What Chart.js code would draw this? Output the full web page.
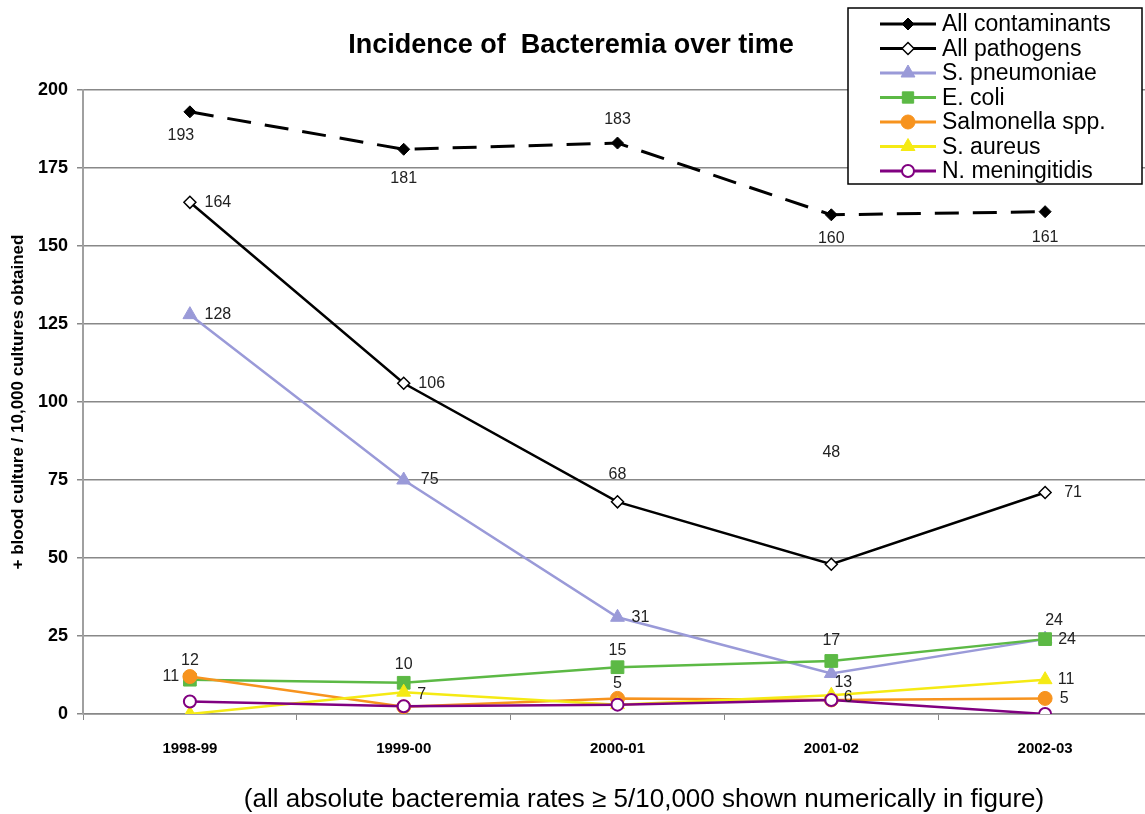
<!DOCTYPE html>
<html>
<head>
<meta charset="utf-8">
<script src="https://cdn.jsdelivr.net/npm/chart.js@4.4.0/dist/chart.umd.min.js"></script>
<style>
    html, body { margin: 0; padding: 0; background: #fff; overflow: hidden; }
    canvas { display: block; }
</style>
</head>
<body>
<canvas id="bacteremia-chart" width="1162" height="814"></canvas>
<script>
// Incidence of bacteremia chart

const years = ['1998-99', '1999-00', '2000-01', '2001-02', '2002-03'];
const yTicks = [0, 25, 50, 75, 100, 125, 150, 175, 200];

const allContaminants = [193, 181, 183, 160, 161];
const allPathogens = [164, 106, 68, 48, 71];
const sPneumoniae = [128, 75, 31, 13, 24];
const eColi = [11, 10, 15, 17, 24];
const salmonella = [12, 2.3, 5, 4.5, 5];
const sAureus = [0, 7, 3, 6, 11];
const nMeningitidis = [4, 2.5, 3, 4.5, 0];

const FONT = '"Liberation Sans", Arial, sans-serif';

// where each value label sits relative to its point (null = no label)
const labelOffsets = [
    [[-9, 24], [0, 29], [0, -23], [0, 24], [0, 26]],
    [[28, 0], [28, 0], [0, -27], [0, -112], [28, 0]],
    [[28, 0], [26, 0], [23, 0], [12, 9], [9, -19]],
    [[-19, -3], [0, -18], [0, -17], [0, -20], [22, 0]],
    [[0, -16], null, [0, -15], null, [19, 0]],
    [null, [18, 2], null, [17, 2], [21, 0]],
    [null, null, null, null, null]
];

function series(label, data, color, extra) {
    return Object.assign({
        label: label,
        data: data,
        borderColor: color,
        backgroundColor: color,
        pointBackgroundColor: color,
        pointBorderColor: color,
        borderWidth: 2.5,
        pointBorderWidth: 1,
        fill: false,
        tension: 0
    }, extra);
}

const datasets = [
    series('All contaminants', allContaminants, '#000000', { borderWidth: 3, borderDash: [24, 14], pointStyle: 'rectRot', pointRadius: 6 }),
    series('All pathogens', allPathogens, '#000000', { pointStyle: 'rectRot', pointRadius: 6, pointBackgroundColor: '#ffffff', pointBorderWidth: 1.5 }),
    series('S. pneumoniae', sPneumoniae, '#9a9ad8', { pointStyle: 'triangle', pointRadius: 8 }),
    series('E. coli', eColi, '#5cb945', { pointStyle: 'rect', pointRadius: 9 }),
    series('Salmonella spp.', salmonella, '#f7931e', { pointStyle: 'circle', pointRadius: 7 }),
    series('S. aureus', sAureus, '#f5ea14', { pointStyle: 'triangle', pointRadius: 8 }),
    series('N. meningitidis', nMeningitidis, '#800080', { pointStyle: 'circle', pointRadius: 6, pointBackgroundColor: '#ffffff', pointBorderWidth: 2 })
];
// later series sit on top
datasets.forEach((d, i) => { d.order = datasets.length - 1 - i; });

const valueLabels = {
    id: 'valueLabels',
    afterDatasetsDraw(chart) {
        const ctx = chart.ctx;
        ctx.save();
        ctx.font = '16px ' + FONT;
        ctx.fillStyle = '#222';
        ctx.textAlign = 'center';
        ctx.textBaseline = 'middle';
        chart.data.datasets.forEach((ds, di) => {
            const meta = chart.getDatasetMeta(di);
            meta.data.forEach((pt, i) => {
                const off = labelOffsets[di][i];
                if (!off) return;
                ctx.fillText(String(Math.round(ds.data[i])), pt.x + off[0], pt.y + off[1]);
            });
        });
        ctx.restore();
    }
};

const decorations = {
    id: 'decorations',
    afterDraw(chart) {
        const ctx = chart.ctx;
        ctx.save();
        ctx.fillStyle = '#000';
        ctx.textAlign = 'center';
        ctx.textBaseline = 'middle';

        ctx.font = 'bold 27px ' + FONT;
        ctx.fillText('Incidence of  Bacteremia over time', 571, 46);

        ctx.font = '26px ' + FONT;
        ctx.fillText('(all absolute bacteremia rates \u2265 5/10,000 shown numerically in figure)', 644, 800);

        ctx.save();
        ctx.translate(18, 402);
        ctx.rotate(-Math.PI / 2);
        ctx.font = 'bold 17px ' + FONT;
        ctx.fillText('+ blood culture / 10,000 cultures obtained', 0, 0);
        ctx.restore();

        // legend box
        const bx = 848, by = 8, bw = 294, bh = 176;
        ctx.fillStyle = '#fff';
        ctx.fillRect(bx, by, bw, bh);
        ctx.strokeStyle = '#000';
        ctx.lineWidth = 1.5;
        ctx.strokeRect(bx, by, bw, bh);

        chart.data.datasets.forEach((ds, i) => {
            const y = 24 + i * 24.5;
            ctx.strokeStyle = ds.borderColor;
            ctx.lineWidth = 3;
            ctx.setLineDash([]);
            ctx.beginPath();
            ctx.moveTo(880, y);
            ctx.lineTo(936, y);
            ctx.stroke();

            ctx.fillStyle = ds.pointBackgroundColor;
            ctx.strokeStyle = ds.pointBorderColor;
            ctx.lineWidth = ds.pointBorderWidth;
            Chart.helpers.drawPoint(ctx, {
                pointStyle: ds.pointStyle,
                radius: Math.min(ds.pointRadius, 8),
                rotation: 0,
                borderWidth: ds.pointBorderWidth
            }, 908, y);

            ctx.fillStyle = '#000';
            ctx.textAlign = 'left';
            ctx.font = '23px ' + FONT;
            ctx.fillText(ds.label, 942, y + 1);
        });
        ctx.restore();
    }
};

new Chart(document.getElementById('bacteremia-chart').getContext('2d'), {
    type: 'line',
    data: {
        labels: years,
        datasets: datasets
    },
    options: {
        responsive: false,
        maintainAspectRatio: false,
        animation: false,
        layout: {
            padding: { top: 90, right: 0, bottom: 0, left: 0 }
        },
        scales: {
            x: {
                offset: true,
                afterFit: (scale) => { scale.height = 100; },
                grid: {
                    offset: true,
                    drawOnChartArea: false,
                    drawTicks: true,
                    tickLength: 6,
                    color: '#888'
                },
                border: { color: '#888', width: 1.5 },
                ticks: {
                    padding: 20,
                    color: '#000',
                    font: { family: FONT, size: 15, weight: 'bold' }
                }
            },
            y: {
                min: 0,
                max: 200,
                afterFit: (scale) => { scale.width = 83; },
                afterBuildTicks: (scale) => { scale.ticks = yTicks.map(v => ({ value: v })); },
                grid: {
                    color: '#888',
                    lineWidth: 1.5,
                    tickLength: 6
                },
                border: { color: '#a0a0a0', width: 2 },
                ticks: {
                    padding: 9,
                    color: '#000',
                    font: { family: FONT, size: 18, weight: 'bold' }
                }
            }
        },
        plugins: {
            legend: { display: false },
            title: { display: false },
            tooltip: { enabled: false }
        }
    },
    plugins: [valueLabels, decorations]
});
</script>
</body>
</html>
